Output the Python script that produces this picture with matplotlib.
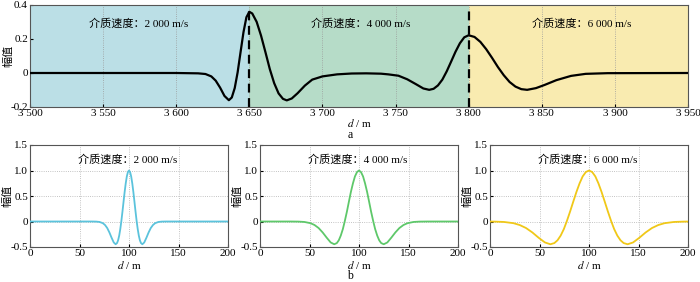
import matplotlib
matplotlib.use('Agg')
import matplotlib.pyplot as plt
from matplotlib.ticker import FuncFormatter

plt.rcParams['font.family'] = ['Liberation Serif', 'Noto Sans CJK SC']
plt.rcParams['mathtext.fontset'] = 'stix'
plt.rcParams['axes.unicode_minus'] = False

# ---- top panel: composite waveform across three media (d, amplitude) ----
top_wave = [
    (3500, 0), (3600, 0), (3615, -0.002), (3620, -0.006), (3624, -0.02),
    (3627, -0.045), (3630, -0.086), (3633, -0.135), (3636, -0.16),
    (3638, -0.144), (3640, -0.089), (3642, 0.004), (3644, 0.123),
    (3646, 0.24), (3648, 0.328), (3650, 0.36), (3652, 0.35), (3655, 0.301),
    (3658, 0.22), (3661, 0.123), (3664, 0.023), (3667, -0.06), (3670, -0.12),
    (3673, -0.152), (3675.6, -0.161), (3679, -0.15), (3683, -0.119),
    (3688, -0.074), (3693, -0.039), (3700, -0.02), (3710, -0.008),
    (3720, -0.003), (3730, -0.002), (3740, -0.004), (3745, -0.008),
    (3752, -0.016), (3758, -0.037), (3764, -0.066), (3769, -0.091),
    (3773, -0.099), (3776, -0.093), (3779, -0.073), (3782, -0.039),
    (3785, 0.01), (3788, 0.067), (3791, 0.125), (3794, 0.175), (3797, 0.21),
    (3800, 0.222), (3804, 0.212), (3808, 0.183), (3812, 0.14), (3816, 0.089),
    (3820, 0.035), (3824, -0.013), (3828, -0.053), (3832, -0.08),
    (3836, -0.095), (3840, -0.099), (3846, -0.089), (3852, -0.07),
    (3860, -0.042), (3870, -0.017), (3880, -0.005), (3895, -0.001), (3950, 0),
]
top_d = [p[0] for p in top_wave]
top_amp = [p[1] for p in top_wave]

boundaries = [3650, 3800]
top_labels = ['介质速度：2 000 m/s', '介质速度：4 000 m/s', '介质速度：6 000 m/s']
top_label_d = [3574, 3726, 3877]

# ---- bottom panels: source wavelets for each velocity ----
w1_d = [0, 62.6, 67, 70.3, 73.6, 75.8, 78, 80.2, 82.4, 84.6, 86.5, 87.9, 89, 90.1,
        91.2, 92.3, 93.4, 94.5, 95.6, 96.7, 97.8, 98.9, 100, 101.1, 102.2, 103.3,
        104.4, 105.5, 106.6, 107.7, 108.8, 109.9, 111, 112.1, 113.5, 115.4, 117.6,
        119.8, 122, 124.2, 126.4, 129.7, 133, 137.4, 200]
w1_amp = [0, 0, -0.002, -0.009, -0.033, -0.069, -0.128, -0.215, -0.318, -0.411,
          -0.446, -0.423, -0.368, -0.276, -0.148, 0.012, 0.195, 0.389, 0.579,
          0.749, 0.884, 0.97, 1.0, 0.97, 0.884, 0.749, 0.579, 0.389, 0.195, 0.012,
          -0.148, -0.276, -0.368, -0.423, -0.446, -0.411, -0.318, -0.215, -0.128,
          -0.069, -0.033, -0.009, -0.002, 0, 0]

w2_d = [0, 30.6, 38.8, 44.9, 51, 55.1, 59.2, 63.3, 67.4, 71.4, 75, 77.6, 79.6,
        81.6, 83.7, 85.7, 87.8, 89.8, 91.8, 93.9, 95.9, 98.0, 100, 102.0, 104.1,
        106.1, 108.2, 110.2, 112.2, 114.3, 116.3, 118.4, 120.4, 122.4, 125,
        128.6, 132.6, 136.7, 140.8, 144.9, 149, 155.1, 161.2, 169.4, 200]
w2_amp = [0, 0, -0.002, -0.009, -0.033, -0.069, -0.128, -0.215, -0.318, -0.411,
          -0.446, -0.423, -0.368, -0.276, -0.148, 0.012, 0.195, 0.389, 0.579,
          0.749, 0.884, 0.97, 1.0, 0.97, 0.884, 0.749, 0.579, 0.389, 0.195, 0.012,
          -0.148, -0.276, -0.368, -0.423, -0.446, -0.411, -0.318, -0.215, -0.128,
          -0.069, -0.033, -0.009, -0.002, 0, 0]

w3_d = [0, 4.6, 14.1, 23.7, 30, 36.4, 42.8, 49.1, 55.5, 61, 65, 68.2, 71.4, 74.6,
        77.7, 80.9, 84.1, 87.3, 90.5, 93.6, 96.8, 100, 103.2, 106.4, 109.5,
        112.7, 115.9, 119.1, 122.3, 125.4, 128.6, 131.8, 135, 139, 144.5, 150.9,
        157.2, 163.6, 170, 176.3, 185.9, 195.4, 200]
w3_amp = [-0.001, -0.002, -0.009, -0.033, -0.069, -0.128, -0.215, -0.318, -0.411,
          -0.446, -0.423, -0.368, -0.276, -0.148, 0.012, 0.195, 0.389, 0.579,
          0.749, 0.884, 0.97, 1.0, 0.97, 0.884, 0.749, 0.579, 0.389, 0.195, 0.012,
          -0.148, -0.276, -0.368, -0.423, -0.446, -0.411, -0.318, -0.215, -0.128,
          -0.069, -0.033, -0.009, -0.002, -0.001]

wavelets = [(w1_d, w1_amp), (w2_d, w2_amp), (w3_d, w3_amp)]
wave_colors = ['#5bc3dc', '#5ec86a', '#f0c818']
bg_colors = ['#bbdfe6', '#b6dcc8', '#f9ebb0']

fs = 8


def thousands(v, pos):
    s = '%d' % v
    if len(s) > 3:
        s = s[:-3] + ' ' + s[-3:]
    return s


def style(ax):
    ax.tick_params(direction='in', length=2, labelsize=fs, pad=1.5)
    for sp in ax.spines.values():
        sp.set_color('#555555')
        sp.set_linewidth(0.8)


fig = plt.figure(figsize=(7.0, 2.82), dpi=100)

# top
ax = fig.add_axes([30 / 700, 1 - 107 / 282, 658 / 700, 102 / 282])
edges = [3500] + boundaries + [3950]
for i in range(3):
    ax.axvspan(edges[i], edges[i + 1], color=bg_colors[i], lw=0, zorder=0)
ax.set_xlim(3500, 3950)
ax.set_ylim(-0.2, 0.4)
ax.set_xticks([3500, 3550, 3600, 3650, 3700, 3750, 3800, 3850, 3900, 3950])
ax.set_yticks([-0.2, 0, 0.2, 0.4])
ax.xaxis.set_major_formatter(FuncFormatter(thousands))
ax.yaxis.set_major_formatter(FuncFormatter(lambda v, p: '0' if abs(v) < 1e-9 else '%g' % v))
ax.grid(axis='x', color='#9a9a9a', ls=':', lw=0.6, zorder=1)
for b in boundaries:
    ax.axvline(b, color='black', ls=(0, (4, 2.5)), lw=1.6, zorder=2)
ax.plot(top_d, top_amp, color='black', lw=1.6, zorder=3)
for lab, xd in zip(top_labels, top_label_d):
    ax.text(xd, 0.29, lab, ha='center', va='center', fontsize=fs)
ax.set_ylabel('幅值', fontsize=fs)
ax.yaxis.set_label_coords(-0.026, 0.5)
ax.set_xlabel('$d$ / m', fontsize=fs)
ax.xaxis.set_label_coords(0.5, -0.095)
style(ax)
fig.text(350 / 700, 1 - 135 / 282, 'a', ha='center', va='center', fontsize=8.5)

# bottom
lefts = [30, 260, 490]
for i in range(3):
    axb = fig.add_axes([lefts[i] / 700, 1 - 247 / 282, 198 / 700, 102 / 282])
    d, amp = wavelets[i]
    axb.plot(d, amp, color=wave_colors[i], lw=1.3, zorder=3)
    axb.set_xlim(0, 200)
    axb.set_ylim(-0.5, 1.5)
    axb.set_xticks([0, 50, 100, 150, 200])
    axb.set_yticks([-0.5, 0, 0.5, 1.0, 1.5])
    axb.yaxis.set_major_formatter(FuncFormatter(
        lambda v, p: '0' if abs(v) < 1e-9 else '%.1f' % v))
    axb.grid(color='#b0b0b0', ls=':', lw=0.6, zorder=1)
    axb.text(98.5, 1.21, top_labels[i], ha='center', va='center', fontsize=fs)
    axb.set_ylabel('幅值', fontsize=fs)
    axb.yaxis.set_label_coords(-0.088, 0.5)
    axb.set_xlabel('$d$ / m', fontsize=fs)
    axb.xaxis.set_label_coords(0.5, -0.115)
    style(axb)
fig.text(350 / 700, 1 - 276 / 282, 'b', ha='center', va='center', fontsize=8.5)

fig.savefig('out.png', dpi=100)
plt.close(fig)
